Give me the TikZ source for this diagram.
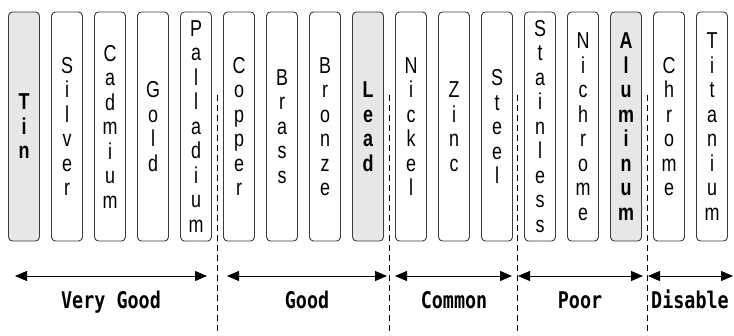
\documentclass[tikz,border=0pt]{standalone}
\usepackage{fontspec}
\usetikzlibrary{arrows.meta}
\newfontfamily\boxfont[FakeStretch=0.78]{Liberation Sans}
\newfontfamily\labfont[FakeStretch=0.8]{DejaVu Sans Mono}
\definecolor{hl}{HTML}{E6E7E9}
\definecolor{edge}{HTML}{3A3A3A}
\begin{document}
\begin{tikzpicture}[x=1pt,y=-1pt,
  metal/.style={draw=edge, line width=0.9pt, rounded corners=4pt, minimum width=31pt,
    minimum height=229pt, inner sep=0pt, fill=white, align=center,
    font=\boxfont\fontsize{23}{24.5}\selectfont},
  hot/.style={metal, fill=hl, font=\boxfont\bfseries\fontsize{23}{24.5}\selectfont},
  sepline/.style={draw=black, dash pattern=on 6pt off 4pt, line width=1.4pt},
  spanarrow/.style={draw=black, {Triangle[length=12pt,width=10pt]}-{Triangle[length=12pt,width=10pt]}, line width=0.8pt},
  lab/.style={anchor=base, inner sep=0pt, font=\labfont\bfseries\fontsize{23}{24}\selectfont}]
\useasboundingbox (0,0) rectangle (734,335);
% metal boxes
\node[hot]   (b1)  at (24,126.5)  {T\\i\\n};
\node[metal] (b2)  at (67,126.5)  {S\\i\\l\\v\\e\\r};
\node[metal] (b3)  at (110,126.5) {C\\a\\d\\m\\i\\u\\m};
\node[metal] (b4)  at (153,126.5) {G\\o\\l\\d};
\node[metal] (b5)  at (196,126.5) {P\\a\\l\\l\\a\\d\\i\\u\\m};
\node[metal] (b6)  at (239,126.5) {C\\o\\p\\p\\e\\r};
\node[metal] (b7)  at (282,126.5) {B\\r\\a\\s\\s};
\node[metal] (b8)  at (325,126.5) {B\\r\\o\\n\\z\\e};
\node[hot]   (b9)  at (368,126.5) {L\\e\\a\\d};
\node[metal] (b10) at (411,126.5) {N\\i\\c\\k\\e\\l};
\node[metal] (b11) at (454,126.5) {Z\\i\\n\\c};
\node[metal] (b12) at (497,126.5) {S\\t\\e\\e\\l};
\node[metal] (b13) at (540,126.5) {S\\t\\a\\i\\n\\l\\e\\s\\s};
\node[metal] (b14) at (583,126.5) {N\\i\\c\\h\\r\\o\\m\\e};
\node[hot]   (b15) at (626,126.5) {A\\l\\u\\m\\i\\n\\u\\m};
\node[metal] (b16) at (669,126.5) {C\\h\\r\\o\\m\\e};
\node[metal] (b17) at (712,126.5) {T\\i\\t\\a\\n\\i\\u\\m};
% dashed separators
\coordinate (d1t) at (217.5,95);  \coordinate (d1b) at (217.5,335);
\coordinate (d2t) at (389.5,95);  \coordinate (d2b) at (389.5,335);
\coordinate (d3t) at (517.5,95);  \coordinate (d3b) at (517.5,335);
\coordinate (d4t) at (647.5,95);  \coordinate (d4b) at (647.5,335);
\draw[sepline] (d1t) -- (d1b);
\draw[sepline] (d2t) -- (d2b);
\draw[sepline] (d3t) -- (d3b);
\draw[sepline] (d4t) -- (d4b);
% range arrows
\coordinate (a1l) at (15,276);  \coordinate (a1r) at (207,276);
\coordinate (a2l) at (227,276); \coordinate (a2r) at (387,276);
\coordinate (a3l) at (395,276); \coordinate (a3r) at (512,276);
\coordinate (a4l) at (518,276); \coordinate (a4r) at (643,276);
\coordinate (a5l) at (648,276); \coordinate (a5r) at (733,276);
\draw[spanarrow] (a1l) -- (a1r);
\draw[spanarrow] (a2l) -- (a2r);
\draw[spanarrow] (a3l) -- (a3r);
\draw[spanarrow] (a4l) -- (a4r);
\draw[spanarrow] (a5l) -- (a5r);
% labels
\node[lab] (l1) at (111,308) {Very Good};
\node[lab] (l2) at (307,308) {Good};
\node[lab] (l3) at (454,308) {Common};
\node[lab] (l4) at (580,308) {Poor};
\node[lab] (l5) at (690,308) {Disable};
\end{tikzpicture}
\end{document}
